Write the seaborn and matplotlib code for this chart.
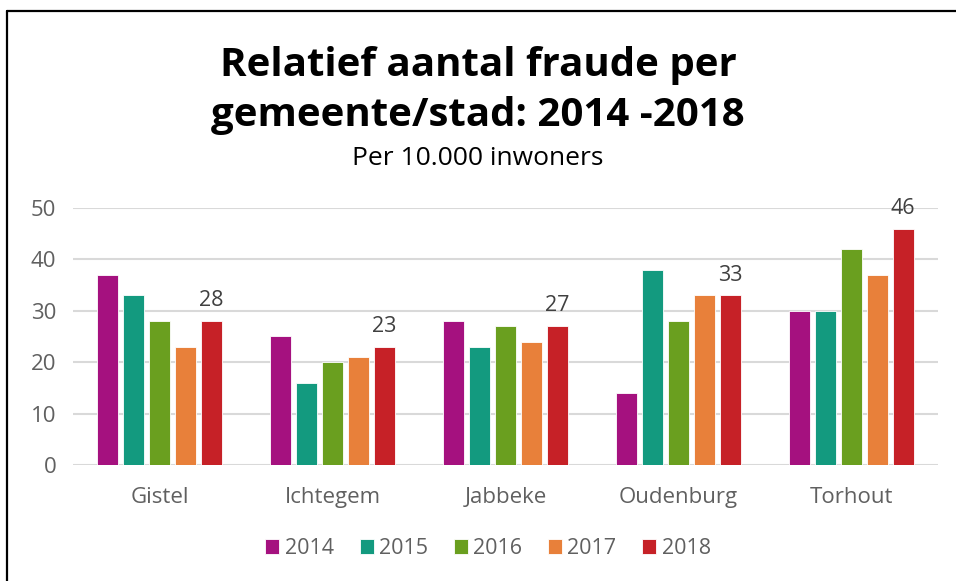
import matplotlib
matplotlib.use("Agg")
import matplotlib.pyplot as plt
import seaborn as sns
import pandas as pd
from matplotlib.lines import Line2D

gemeenten = ["Gistel", "Ichtegem", "Jabbeke", "Oudenburg", "Torhout"]
jaren = ["2014", "2015", "2016", "2017", "2018"]
v2014 = [37, 25, 28, 14, 30]
v2015 = [33, 16, 23, 38, 30]
v2016 = [28, 20, 27, 28, 42]
v2017 = [23, 21, 24, 33, 37]
v2018 = [28, 23, 27, 33, 46]
kleuren = ["#A5117F", "#139A7F", "#6A9F1F", "#E8803A", "#C62127"]

rows = []
for jaar, vals in zip(jaren, [v2014, v2015, v2016, v2017, v2018]):
    for g, v in zip(gemeenten, vals):
        rows.append({"Gemeente": g, "Jaar": jaar, "Waarde": v})
df = pd.DataFrame(rows)

sns.set_theme(style="white")
plt.rcParams['font.family'] = ['Open Sans', 'DejaVu Sans']

fig = plt.figure(figsize=(9.56, 5.81), dpi=100)
ax = fig.add_axes([0.0764, 0.1997, 0.9046, 0.4423])

sns.barplot(data=df, x="Gemeente", y="Waarde", hue="Jaar", order=gemeenten,
            hue_order=jaren, palette=kleuren, saturation=1, width=0.75, gap=0.18,
            edgecolor="white", linewidth=0.6, ax=ax, zorder=3)

ax.set_ylim(0, 50)
ax.set_xlim(-0.5, 4.5)
ax.set_yticks([0, 10, 20, 30, 40, 50])
ax.yaxis.grid(True, color="#D9D9D9", linewidth=1.5, zorder=0)
ax.set_axisbelow(True)
for s in ax.spines.values():
    s.set_visible(False)
ax.set_xlabel("")
ax.set_ylabel("")
ax.tick_params(axis="both", length=0, labelsize=16, labelcolor="#606060")
ax.tick_params(axis="x", pad=16)
ax.tick_params(axis="y", pad=12)

# labels on 2018
last = ax.containers[-1]
ax.bar_label(last, labels=[str(v) for v in v2018], padding=7, fontsize=15.5,
             color="#404040", clip_on=False)

leg = ax.legend(loc="center", bbox_to_anchor=(0.48, -0.325), ncol=5,
                frameon=False, fontsize=15.5, handlelength=0.65, handleheight=0.65,
                handletextpad=0.25, columnspacing=1.2)
for t in leg.get_texts():
    t.set_color("#606060")

fig.text(0.5, 0.888, "Relatief aantal fraude per", ha="center", va="center",
         fontsize=29, fontweight="bold", color="black")
fig.text(0.5, 0.802, "gemeente/stad: 2014 -2018", ha="center", va="center",
         fontsize=29, fontweight="bold", color="black")
fig.text(0.5, 0.728, "Per 10.000 inwoners", ha="center", va="center",
         fontsize=19, color="black")

# frame lines (left and top)
fig.add_artist(Line2D([0.0075, 0.0075], [0.0, 0.981], transform=fig.transFigure,
                      color="black", linewidth=1.6))
fig.add_artist(Line2D([0.0075, 1.0], [0.981, 0.981], transform=fig.transFigure,
                      color="black", linewidth=1.6))

fig.savefig("out.png", dpi=100)
